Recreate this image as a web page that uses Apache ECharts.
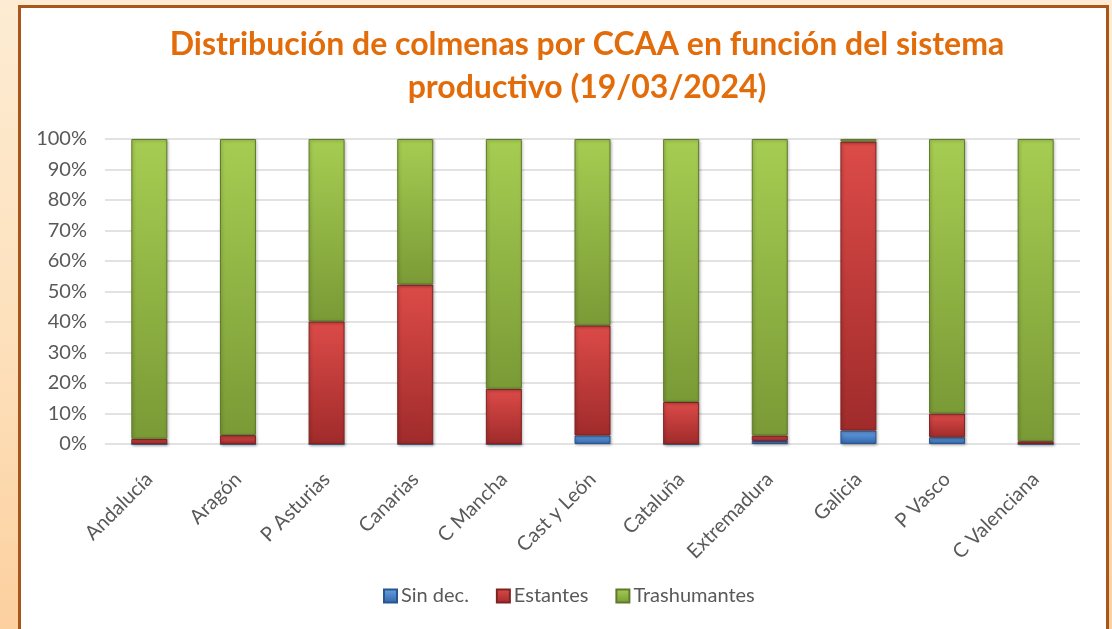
<!DOCTYPE html>
<html>
<head>
<meta charset="utf-8">
<script src="https://cdn.jsdelivr.net/npm/echarts@6/dist/echarts.min.js"></script>
<style>
  html, body { margin: 0; padding: 0; }
  body {
    width: 1112px; height: 629px; overflow: hidden; position: relative;
    background: linear-gradient(180deg, #fdecd3 0%, #fde0bb 55%, #fcd09f 100%);
  }
  #panel {
    position: absolute; left: 18px; top: 5px; width: 1085px; height: 640px;
    background: #fff; border: 3px solid #a9561a;
  }
  #main { position: absolute; left: 0; top: 0; width: 1112px; height: 629px; }
</style>
</head>
<body>
<div id="panel"></div>
<div id="main"></div>
<script>
// datos (% de colmenas por CCAA)
var categories = ['Andalucía', 'Aragón', 'P Asturias', 'Canarias', 'C Mancha', 'Cast y León',
  'Cataluña', 'Extremadura', 'Galicia', 'P Vasco', 'C Valenciana'];
var sinDec       = [0,    0,    0,    0,    0,    2.8,  0,    1.0,  4.4,  2.2, 0];
var estantes     = [1.7,  2.9,  40.2, 52.3, 18.1, 36.1, 13.8, 1.8,  94.8, 7.8, 0.9];
var trashumantes = [98.3, 97.1, 59.8, 47.7, 81.9, 61.1, 86.2, 97.2, 0.8,  90.0, 99.1];
var yTicks = [0, 10, 20, 30, 40, 50, 60, 70, 80, 90, 100];

var font = 'Lato, "Open Sans", sans-serif';

function grad(top, bottom) {
  return new echarts.graphic.LinearGradient(0, 0, 0, 1, [
    { offset: 0, color: top },
    { offset: 1, color: bottom }
  ]);
}

function barSerie(name, data, top, bottom, border) {
  return {
    name: name,
    type: 'bar',
    stack: 'total',
    barWidth: 36,
    data: data,
    itemStyle: {
      color: grad(top, bottom),
      borderColor: border,
      borderWidth: 1,
      shadowColor: 'rgba(0,0,0,0.3)',
      shadowBlur: 3,
      shadowOffsetX: 1,
      shadowOffsetY: 1
    }
  };
}

var chart = echarts.init(document.getElementById('main'));
chart.setOption({
  backgroundColor: 'transparent',
  animation: false,
  title: {
    text: 'Distribución de colmenas por CCAA en función del sistema\nproductivo (19/03/2024)',
    left: 582,
    textAlign: 'center',
    top: 18,
    textStyle: {
      color: '#e36c0a',
      fontFamily: font,
      fontWeight: 'bold',
      fontSize: 32,
      lineHeight: 43
    }
  },
  legend: {
    bottom: 18,
    left: 378,
    itemWidth: 13,
    itemHeight: 13,
    itemGap: 27,
    icon: 'rect',
    textStyle: { color: '#595959', fontFamily: font, fontSize: 20, padding: [0, 0, 0, -1] },
    data: ['Sin dec.', 'Estantes', 'Trashumantes']
  },
  grid: {
    left: 105,
    right: 32,
    top: 139,
    bottom: 185,
    containLabel: false
  },
  xAxis: {
    type: 'category',
    data: categories,
    axisLine: { show: false },
    axisTick: { show: false },
    axisLabel: {
      rotate: 45,
      margin: 32,
      interval: 0,
      color: '#595959',
      fontFamily: font,
      fontSize: 20
    }
  },
  yAxis: {
    type: 'value',
    min: yTicks[0],
    max: yTicks[yTicks.length - 1],
    interval: 10,
    axisLine: { show: false },
    axisTick: { show: false },
    axisLabel: {
      formatter: '{value}%',
      margin: 18,
      color: '#595959',
      fontFamily: font,
      fontSize: 20
    },
    splitLine: { lineStyle: { color: '#d9d9d9', width: 1.5 } }
  },
  series: [
    barSerie('Sin dec.', sinDec, '#6aa3e6', '#2f64a8', '#2a5590'),
    barSerie('Estantes', estantes, '#dc4b48', '#a02b2b', '#7f2322'),
    barSerie('Trashumantes', trashumantes, '#a6cd52', '#7a9a36', '#5f7a2a')
  ]
});
</script>
</body>
</html>
